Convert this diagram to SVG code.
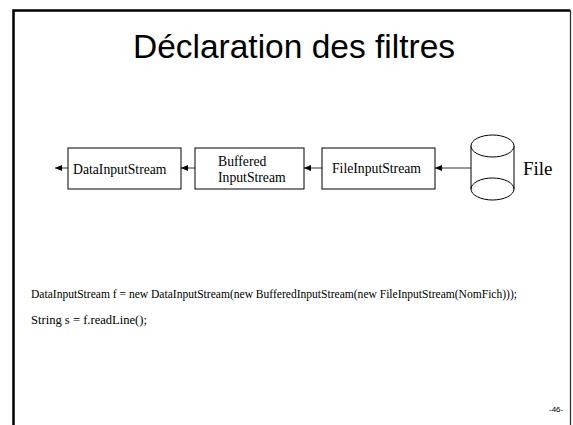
<svg xmlns="http://www.w3.org/2000/svg" width="573" height="425" viewBox="0 0 573 425">
<style>
.box{fill:#fff;stroke:#000;stroke-width:1}
.lbl{font-family:"Liberation Serif",serif;font-size:13.7px;fill:#000}
.code{font-family:"Liberation Serif",serif;font-size:12px;fill:#000}
.edge{stroke:#333;stroke-width:1;fill:none;marker-end:url(#ah)}
</style>
<defs>
<marker id="ah" viewBox="0 0 7 6" refX="7" refY="3" markerWidth="7" markerHeight="6" markerUnits="userSpaceOnUse" orient="auto">
<path d="M0,0 L7,3 L0,6 z" fill="#000"/>
</marker>
</defs>
<rect width="573" height="425" fill="#fff"/>
<path d="M13.5,425 V10.5 H570" fill="none" stroke="#000" stroke-width="2.5"/>
<path d="M570.5,10 V425" fill="none" stroke="#333" stroke-width="1.3"/>
<text x="294" y="58" text-anchor="middle" font-family="Liberation Sans, Arial, sans-serif" font-size="33.5">Déclaration des filtres</text>
<g id="edges">
<line class="edge" x1="68" y1="168" x2="55" y2="168"/>
<line class="edge" x1="195" y1="168" x2="181" y2="168"/>
<line class="edge" x1="322" y1="168" x2="304" y2="168"/>
<line class="edge" x1="471" y1="168" x2="435" y2="168"/>
</g>
<g id="data">
<rect class="box" x="68" y="148" width="113" height="41"/>
<text class="lbl" x="73" y="174">DataInputStream</text>
</g>
<g id="buffered">
<rect class="box" x="195" y="148" width="109" height="41"/>
<text class="lbl" x="218" y="166">Buffered</text>
<text class="lbl" x="218" y="182">InputStream</text>
</g>
<g id="fileinput">
<rect class="box" x="322" y="148" width="113" height="41"/>
<text class="lbl" x="332" y="173">FileInputStream</text>
</g>
<g id="file">
<path d="M471,146 V189 A21.5,11 0 0 0 514,189 V146" fill="#fff" stroke="#000" stroke-width="1"/>
<ellipse cx="492.5" cy="146" rx="21.5" ry="11" fill="#fff" stroke="#000" stroke-width="1"/>
<path d="M471,189 A21.5,11 0 0 1 514,189" fill="none" stroke="#000" stroke-width="1"/>
<text x="523" y="175" font-family="Liberation Serif, serif" font-size="19">File</text>
</g>
<text class="code" x="31" y="298" textLength="486" lengthAdjust="spacingAndGlyphs">DataInputStream f = new DataInputStream(new BufferedInputStream(new FileInputStream(NomFich)));</text>
<text class="code" x="31" y="324" textLength="116" lengthAdjust="spacingAndGlyphs">String s = f.readLine();</text>
<text x="549" y="412" font-family="Liberation Sans, Arial, sans-serif" font-size="8">-46-</text>
</svg>
